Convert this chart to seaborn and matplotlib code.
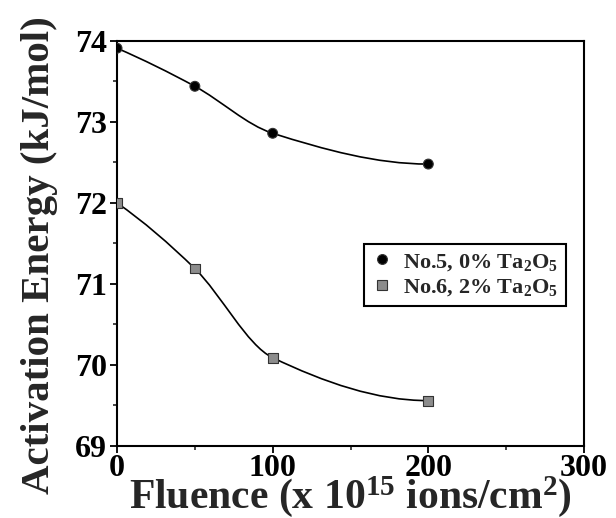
import matplotlib
matplotlib.use("Agg")
import matplotlib.pyplot as plt
import seaborn as sns
import pandas as pd
import numpy as np
from matplotlib.path import Path
from matplotlib.patches import PathPatch
from matplotlib.ticker import MultipleLocator

# ------------------- data -------------------
fluence = [0, 50, 100, 200]
energy_no5 = [73.91, 73.44, 72.86, 72.48]
energy_no6 = [72.00, 71.19, 70.09, 69.56]
labels = ["No.5, 0% Ta$_2$O$_5$", "No.6, 2% Ta$_2$O$_5$"]

sns.set_style("ticks")
plt.rcParams['font.family'] = ['Liberation Serif', 'DejaVu Serif']
plt.rcParams['font.weight'] = 'bold'
plt.rcParams['mathtext.fontset'] = 'custom'
plt.rcParams['mathtext.rm'] = 'Liberation Serif:bold'
plt.rcParams['mathtext.it'] = 'Liberation Serif:bold'
plt.rcParams['mathtext.bf'] = 'Liberation Serif:bold'

df = pd.DataFrame({
    'fluence': fluence * 2,
    'energy': energy_no5 + energy_no6,
    'sample': [labels[0]] * 4 + [labels[1]] * 4,
})


def pchip_slopes(x, y):
    # monotone cubic tangents, only used to shape the bezier through the points
    x = np.asarray(x, float)
    y = np.asarray(y, float)
    h = np.diff(x)
    d = np.diff(y) / h
    m = np.zeros_like(y)
    for k in range(1, len(x) - 1):
        if d[k - 1] * d[k] > 0:
            w1 = 2 * h[k] + h[k - 1]
            w2 = h[k] + 2 * h[k - 1]
            m[k] = (w1 + w2) / (w1 / d[k - 1] + w2 / d[k])
    m0 = ((2 * h[0] + h[1]) * d[0] - h[0] * d[1]) / (h[0] + h[1])
    m[0] = m0 if m0 * d[0] > 0 else 0
    mn = ((2 * h[-1] + h[-2]) * d[-1] - h[-1] * d[-2]) / (h[-1] + h[-2])
    m[-1] = mn if mn * d[-1] > 0 else 0
    return m


def smooth_path(x, y):
    m = pchip_slopes(x, y)
    verts = [(x[0], y[0])]
    codes = [Path.MOVETO]
    for k in range(len(x) - 1):
        h = x[k + 1] - x[k]
        verts += [(x[k] + h / 3, y[k] + m[k] * h / 3),
                  (x[k + 1] - h / 3, y[k + 1] - m[k + 1] * h / 3),
                  (x[k + 1], y[k + 1])]
        codes += [Path.CURVE4] * 3
    return Path(verts, codes)


fig = plt.figure(figsize=(6.16, 5.18), dpi=100)
ax = fig.add_axes([0.190, 0.139, 0.758, 0.782])

for ys in (energy_no5, energy_no6):
    ax.add_patch(PathPatch(smooth_path(fluence, ys), fill=False,
                           edgecolor='black', lw=1.2, zorder=2))

sns.scatterplot(data=df, x='fluence', y='energy', hue='sample', style='sample',
                markers={labels[0]: 'o', labels[1]: 's'},
                palette={labels[0]: 'black', labels[1]: '#8c8c8c'},
                s=50, edgecolor='#333333', linewidth=0.8, ax=ax, zorder=3)

ax.set_xlim(0, 300)
ax.set_ylim(69, 74)
ax.xaxis.set_major_locator(MultipleLocator(100))
ax.xaxis.set_minor_locator(MultipleLocator(50))
ax.yaxis.set_major_locator(MultipleLocator(1))
ax.yaxis.set_minor_locator(MultipleLocator(0.5))
ax.tick_params(which='major', direction='out', length=5, width=1.3,
               labelsize=23, pad=2, colors='black')
ax.tick_params(which='minor', direction='out', length=3, width=1.2)
ax.tick_params(axis='x', which='major', pad=1)
for sp in ax.spines.values():
    sp.set_visible(True)
    sp.set_linewidth(1.5)
    sp.set_color('black')

ax.set_xlabel("Fluence (x 10$^{15}$ ions/cm$^{2}$)", fontsize=30,
              fontweight='bold', labelpad=-7)
ax.set_ylabel("Activation Energy (kJ/mol)", fontsize=29.5,
              fontweight='bold')
ax.yaxis.set_label_coords(-0.126, 0.47)

leg = ax.legend(loc='upper left', bbox_to_anchor=(0.529, 0.499), fontsize=16,
                frameon=True, fancybox=False, edgecolor='black',
                handletextpad=0.5, borderpad=0.35, labelspacing=0.2,
                handlelength=0.9, borderaxespad=0)
leg.get_frame().set_linewidth(1.5)
leg.get_frame().set_alpha(1)

fig.savefig("out.png", dpi=100)
